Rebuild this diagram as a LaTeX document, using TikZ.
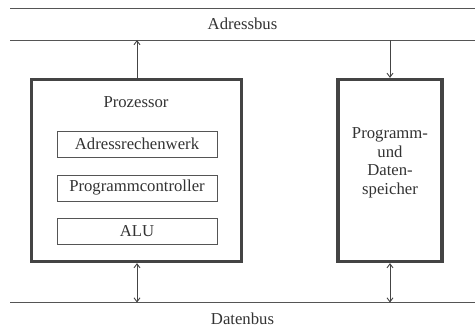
\documentclass[tikz,border=0pt]{standalone}
\usepackage{fontspec}
\setmainfont{Liberation Serif}
\usetikzlibrary{arrows.meta}
\definecolor{ink}{HTML}{333333}
\definecolor{boxc}{HTML}{444444}
\definecolor{linec}{HTML}{555555}
\tikzset{
  bigbox/.style={draw=boxc, line width=3.2pt, rectangle, inner sep=0pt},
  unitbox/.style={draw=linec, line width=1pt, rectangle, minimum width=160, minimum height=26, inner sep=0pt, text=ink},
  busline/.style={draw=linec, line width=1pt},
  conn/.style={draw=boxc, line width=0.9pt, arrows={-Straight Barb[length=4,width=6]}},
  dconn/.style={draw=boxc, line width=0.9pt, arrows={Straight Barb[length=4,width=6]-Straight Barb[length=4,width=6]}},
  lbl/.style={text=ink, inner sep=0pt},
}
\begin{document}
\begin{tikzpicture}[x=1pt,y=-1pt,font=\fontsize{16.7}{18.5}\selectfont]
\useasboundingbox (0,0) rectangle (475,333);
% buses
\coordinate (at1) at (10,8);
\coordinate (at2) at (475,8);
\coordinate (ab1) at (10,40);
\coordinate (ab2) at (475,40);
\coordinate (db1) at (10,302.5);
\coordinate (db2) at (475,302.5);
\draw[busline] (at1) -- (at2);
\draw[busline] (ab1) -- (ab2);
\draw[busline] (db1) -- (db2);
\node[lbl] (adressbus) at (242.5,24) {Adressbus};
\node[lbl] (datenbus) at (242.5,319) {Datenbus};
% boxes
\node[bigbox, minimum width=210, minimum height=182] (proc) at (136.5,170.5) {};
\node[bigbox, minimum width=104, minimum height=182] (mem) at (390,170.5) {};
\node[lbl] (proclbl) at (136,102) {Prozessor};
\node[unitbox] (arw) at (137,144) {Adressrechenwerk};
\node[unitbox] (pc) at (137,188) {Programmcontroller};
\node[unitbox] (alu) at (137,231.5) {ALU};
\node[lbl, align=center] (memlbl) at (390,163) {Programm-\\und\\Daten-\\speicher};
% connectors
\coordinate (pa) at (137,40);
\coordinate (ma) at (390,40);
\coordinate (pd) at (137,302.5);
\coordinate (md) at (390,302.5);
\draw[conn] (pa |- proc.north) -- (pa);
\draw[conn] (ma) -- (ma |- mem.north);
\draw[dconn] (pa |- proc.south) -- (pd);
\draw[dconn] (ma |- mem.south) -- (md);
\end{tikzpicture}
\end{document}
